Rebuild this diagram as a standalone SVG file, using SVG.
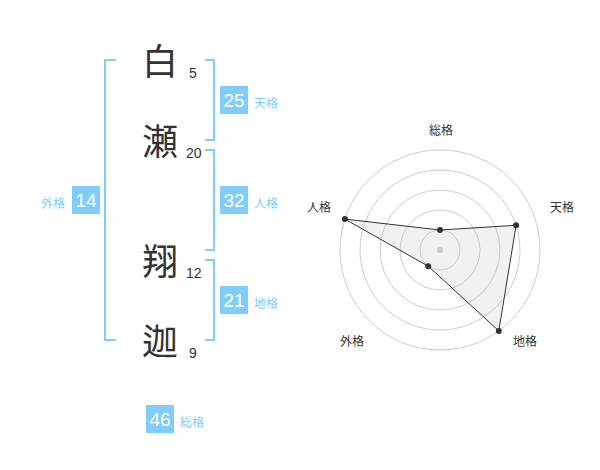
<svg xmlns="http://www.w3.org/2000/svg" width="600" height="470" viewBox="0 0 600 470">
<style>
.kanji{font-family:"Noto Sans CJK JP","Noto Sans CJK SC",sans-serif;font-size:36px;fill:#333;text-anchor:middle}
.num{font-family:"Liberation Sans",Arial,sans-serif;font-size:14px;fill:#333}
.br{fill:none;stroke:#81cdf9;stroke-width:2}
.box{fill:#81cdf9}
.bt{font-family:"Liberation Sans",Arial,sans-serif;font-size:19px;fill:#fff;text-anchor:middle}
.lb{font-family:"Noto Sans CJK JP","Noto Sans CJK SC",sans-serif;font-size:12px;fill:#81cdf9}
.ring{fill:none;stroke:#ccc;stroke-width:1}
.ax{font-family:"Noto Sans CJK JP","Noto Sans CJK SC",sans-serif;font-size:12px;fill:#333;text-anchor:middle}
.pt{fill:#333}
</style>
<g id="chars">
<text class="kanji" x="160" y="75">白</text>
<text class="kanji" x="160" y="155">瀬</text>
<text class="kanji" x="160" y="275">翔</text>
<text class="kanji" x="160" y="355">迦</text>
<text class="num" x="189" y="78">5</text>
<text class="num" x="186" y="158">20</text>
<text class="num" x="186" y="278">12</text>
<text class="num" x="189" y="358">9</text>
</g>
<g id="connectors">
<path class="br" d="M116,60 H105 V340 H116"/>
<path class="br" d="M205,60 H214 V140 H205"/>
<path class="br" d="M205,150 H214 V250 H205"/>
<path class="br" d="M205,260 H214 V340 H205"/>
</g>
<g id="tenkaku">
<rect class="box" x="220" y="86" width="28" height="28"/>
<text class="bt" x="234" y="107">25</text>
<text class="lb" x="254" y="108">天格</text>
</g>
<g id="jinkaku">
<rect class="box" x="220" y="186" width="28" height="28"/>
<text class="bt" x="234" y="207">32</text>
<text class="lb" x="254" y="208">人格</text>
</g>
<g id="chikaku">
<rect class="box" x="220" y="286" width="28" height="28"/>
<text class="bt" x="234" y="307">21</text>
<text class="lb" x="254" y="308">地格</text>
</g>
<g id="gaikaku">
<rect class="box" x="72" y="186" width="28" height="28"/>
<text class="bt" x="86" y="207">14</text>
<text class="lb" x="41" y="208">外格</text>
</g>
<g id="soukaku">
<rect class="box" x="146" y="405" width="28" height="28"/>
<text class="bt" x="160" y="426">46</text>
<text class="lb" x="180" y="427">総格</text>
</g>
<g id="radar">
<circle class="ring" cx="440" cy="250" r="20"/>
<circle class="ring" cx="440" cy="250" r="40"/>
<circle class="ring" cx="440" cy="250" r="60"/>
<circle class="ring" cx="440" cy="250" r="80"/>
<circle class="ring" cx="440" cy="250" r="100"/>
<circle cx="440" cy="250" r="3" fill="#ccc"/>
<polygon points="440,230 516.1,225.3 498.8,330.9 428.2,266.2 344.9,219.1" fill="rgba(200,200,200,0.25)" stroke="#333" stroke-width="1"/>
<circle class="pt" cx="440" cy="230" r="3"/>
<circle class="pt" cx="516.1" cy="225.3" r="3"/>
<circle class="pt" cx="498.8" cy="330.9" r="3"/>
<circle class="pt" cx="428.2" cy="266.2" r="3"/>
<circle class="pt" cx="344.9" cy="219.1" r="3"/>
<text class="ax" x="441" y="135">総格</text>
<text class="ax" x="562" y="212">天格</text>
<text class="ax" x="525" y="346">地格</text>
<text class="ax" x="352" y="346">外格</text>
<text class="ax" x="319" y="212">人格</text>
</g>
</svg>
